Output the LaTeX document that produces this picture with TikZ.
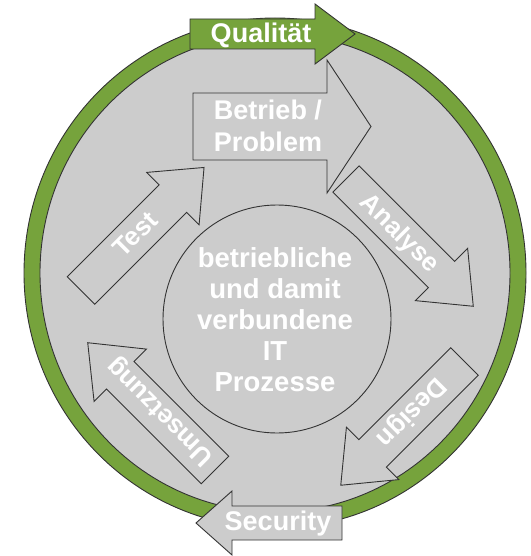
\documentclass[tikz,border=0pt]{standalone}
\usepackage{fontspec}
\setmainfont{Liberation Sans}
\definecolor{ringgreen}{HTML}{76A33C}
\definecolor{discgray}{HTML}{CCCCCC}
\definecolor{edge}{HTML}{333333}
\tikzset{
  outl/.style={draw=edge, line width=0.9pt, line join=miter},
  lbl/.style={text=white, font=\bfseries\fontsize{26}{30}\selectfont, inner sep=0pt},
}
% #1 tail x, #2 tail y, #3 angle, #4 length, #5 head start, #6 body half width, #7 head half width, #8 fill
\newcommand\blockarr[8]{%
  \begin{scope}[shift={(#1,#2)}, rotate=#3]
    \filldraw[outl, fill=#8] (0,-#6) -- (#5,-#6) -- (#5,-#7) -- (#4,0) -- (#5,#7) -- (#5,#6) -- (0,#6) -- cycle;
  \end{scope}}
\begin{document}
\begin{tikzpicture}[x=1pt, y=-1pt]
\useasboundingbox (0,0) rectangle (530,556);
% ring
\filldraw[outl, fill=ringgreen] (275,273) ellipse [x radius=251, y radius=255];
\filldraw[outl, fill=discgray] (275,273) ellipse [x radius=235, y radius=239];
% centre circle
\node[outl, circle, minimum size=228pt, inner sep=0pt, fill=discgray] (core) at (277,319) {};
\node[text=white, font=\bfseries\fontsize{27.5}{31}\selectfont, align=center] (coretext) at (275,320)
  {betriebliche\\und damit\\verbundene\\IT\\Prozesse};
% arrows
\blockarr{190}{34}{0}{165}{125}{15}{30}{ringgreen}
\node[lbl, font=\bfseries\fontsize{27}{30}\selectfont] (qual) at (261,35) {Qualität};
\blockarr{342}{523}{180}{146}{110}{17}{32}{discgray}
\node[lbl, font=\bfseries\fontsize{27}{30}\selectfont] (sec) at (278,524) {Security};
\blockarr{193}{126.5}{0}{178}{134}{33.5}{66.5}{discgray}
\node[lbl, align=center, font=\bfseries\fontsize{27}{32}\selectfont] (betr) at (268,126) {Betrieb /\\Problem};
\blockarr{346}{179}{-45}{180}{135}{18.5}{37}{discgray}
\node[lbl, rotate=-45] (ana) at (399,234) {Analyse};
\blockarr{81}{290.5}{45}{174}{130}{19.5}{37}{discgray}
\node[lbl, rotate=45] (test) at (135,234) {Test};
\blockarr{215}{470}{135}{180}{134}{19.5}{37}{discgray}
\node[lbl, rotate=135] (ums) at (161,411) {Umsetzung};
\blockarr{464.5}{361.5}{-135}{175}{130}{19.5}{37}{discgray}
\node[lbl, rotate=-135] (des) at (411,412) {Design};
\end{tikzpicture}
\end{document}
